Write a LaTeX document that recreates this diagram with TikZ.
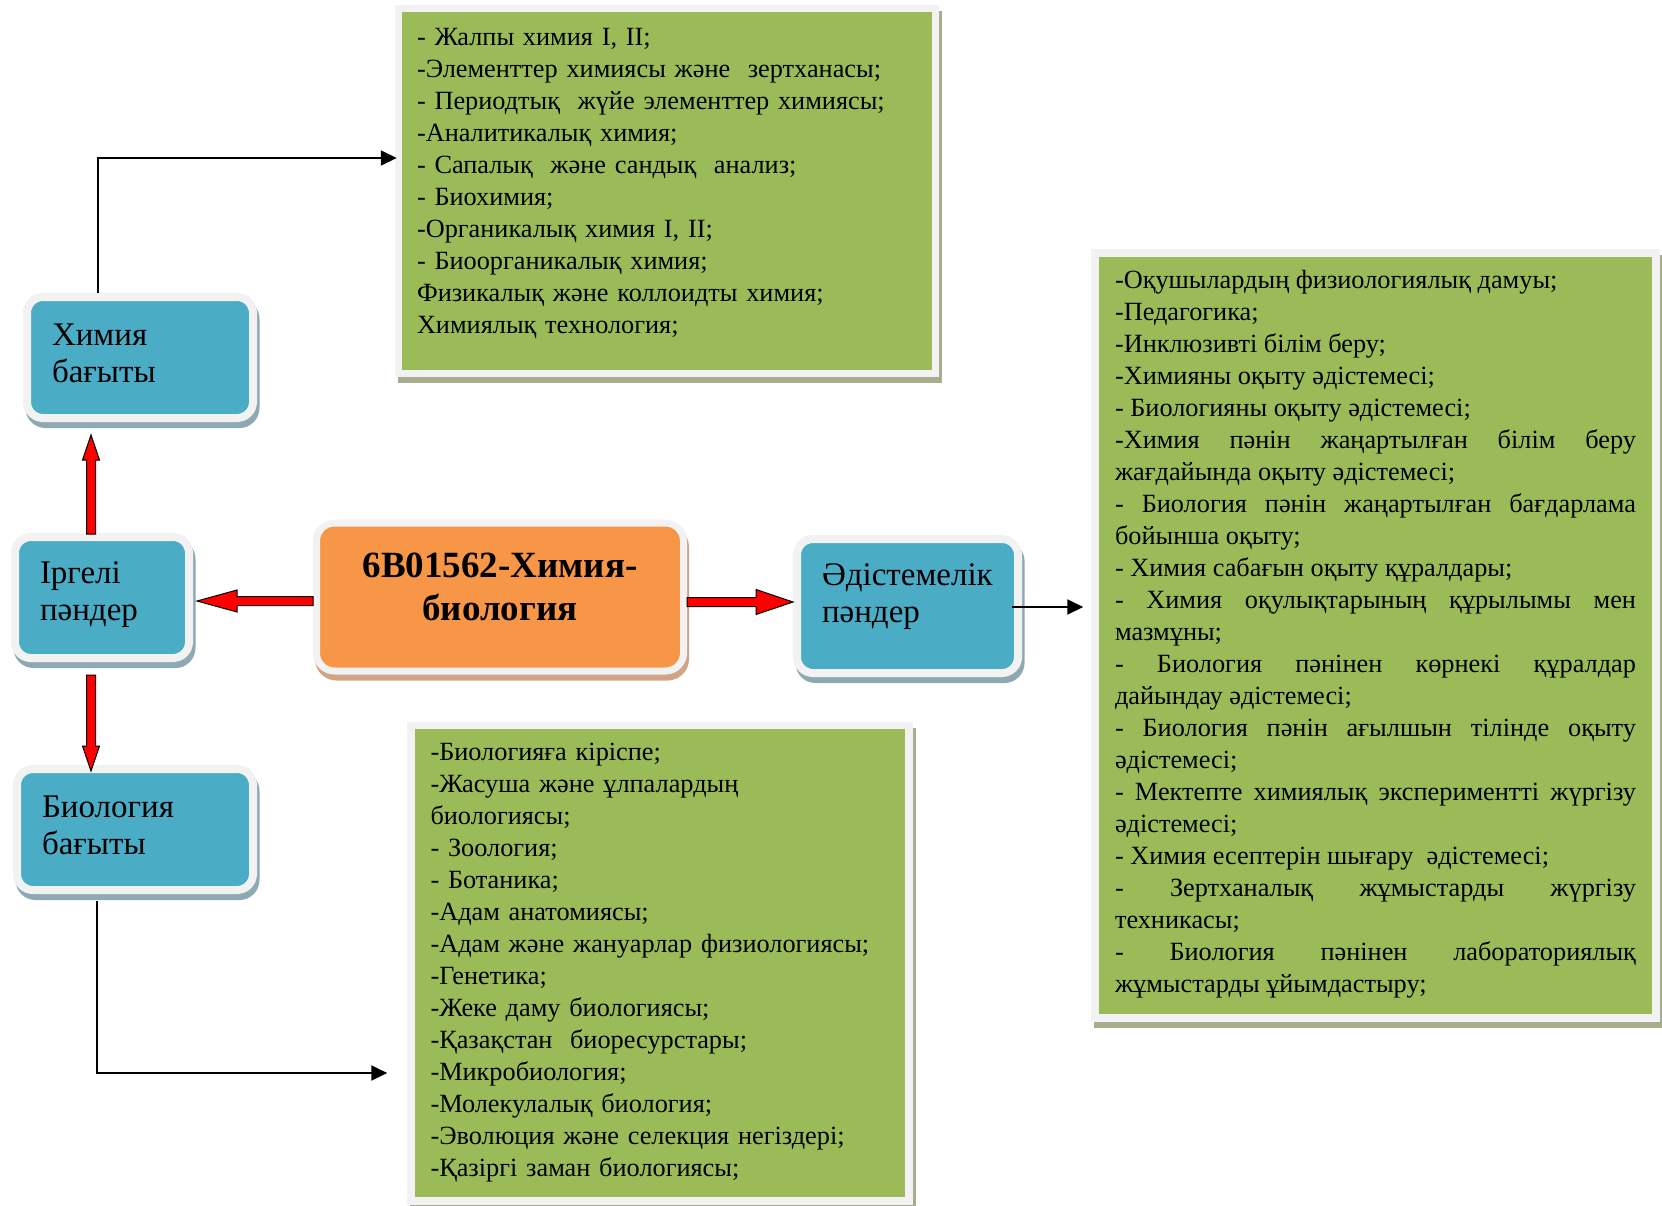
\documentclass[tikz,border=0pt]{standalone}
\usepackage{fontspec}
\setmainfont{Liberation Serif}
\usetikzlibrary{arrows.meta,calc}

\definecolor{boxblue}{HTML}{4BACC6}
\definecolor{boxorange}{HTML}{F79646}
\definecolor{boxgreen}{HTML}{9BBB59}
\definecolor{framegray}{HTML}{F2F2F2}
\definecolor{blueshade}{HTML}{8FA9B3}
\definecolor{orangeshade}{HTML}{D2A486}
\definecolor{greenshade}{HTML}{A6AE8E}

\tikzset{
	branch/.style={draw=framegray, line width=8pt, fill=boxblue, rounded corners=16pt,
		inner xsep=25pt, inner ysep=0pt, align=left, text height=25pt,
		font=\fontsize{33}{37}\selectfont,
		preaction={draw=blueshade, fill=blueshade, line width=8pt, transform canvas={shift={(2.5pt,-6pt)}}}},
	core/.style={draw=framegray, line width=7pt, fill=boxorange, rounded corners=18pt,
		inner xsep=20pt, inner ysep=0pt, align=center, text height=28pt,
		font=\bfseries\fontsize{37}{43}\selectfont,
		preaction={draw=orangeshade, fill=orangeshade, line width=7pt, transform canvas={shift={(2pt,-6pt)}}}},
	topic/.style={draw=framegray, line width=7.5pt, fill=boxgreen,
		inner ysep=0pt, text height=20pt,
		font=\fontsize{26.3}{32}\selectfont,
		preaction={draw=greenshade, fill=greenshade, line width=7.5pt, transform canvas={shift={(3pt,-6pt)}}}},
	redarrow/.style={draw=black, fill=red, line width=1pt, line join=miter},
	link/.style={draw=black, line width=2pt, -{Triangle[length=16pt,width=15pt]}}
}

% #1 start, #2 tip, #3 head length, #4 head half width
\newcommand{\fatarrow}[4]{%
	\path let \p1=(#1), \p2=(#2) in \pgfextra{%
		\pgfmathsetmacro\arrlen{veclen(\x2-\x1,\y2-\y1)}\global\let\arrlen\arrlen
		\pgfmathsetmacro\arrang{atan2(\y2-\y1,\x2-\x1)}\global\let\arrang\arrang};
	\draw[redarrow, shift={(#1)}, rotate=\arrang] (0pt,4.5pt) -- (\arrlen pt-#3pt,4.5pt)
		-- (\arrlen pt-#3pt,#4pt) -- (\arrlen pt,0pt) -- (\arrlen pt-#3pt,-#4pt)
		-- (\arrlen pt-#3pt,-4.5pt) -- (0pt,-4.5pt) -- cycle;
}

\begin{document}
\begin{tikzpicture}[x=1pt,y=-1pt]
	\useasboundingbox (0,0) rectangle (1662,1205);

	\node[branch, minimum width=226pt, minimum height=121pt, text width=176pt, text depth=50pt] (chem) at (140,357.5) {Химия\\бағыты};
	\node[branch, minimum width=174pt, minimum height=121pt, text width=124pt, text depth=54pt] (base) at (102,597.5) {Іргелі\\пәндер};
	\node[branch, minimum width=236pt, minimum height=121pt, text width=186pt, text depth=50pt] (bio) at (135,829.5) {Биология\\бағыты};
	\node[branch, minimum width=221pt, minimum height=134pt, text width=171pt, text depth=67pt] (method) at (907.5,606) {Әдістемелік\\пәндер};
	\node[core, minimum width=367pt, minimum height=148pt, text width=327pt, text depth=68pt] (prog) at (500,597) {6B01562-Химия-\\биология};

	\node[topic, align=left, minimum width=537pt, minimum height=365pt, text width=500pt, inner xsep=18.5pt, text depth=312pt] (chemlist) at (667,191) {%
		- Жалпы химия I, II;\\
		-Элементтер химиясы және~ зертханасы;\\
		- Периодтық~ жүйе элементтер химиясы;\\
		-Аналитикалық химия;\\
		- Сапалық~ және сандық~ анализ;\\
		- Биохимия;\\
		-Органикалық химия I, II;\\
		- Биоорганикалық химия;\\
		Физикалық және коллоидты химия;\\
		Химиялық технология;};
	\node[topic, minimum width=561pt, minimum height=765pt, inner xsep=20pt, text depth=715pt] (methodlist) at (1375.5,635.5) {%
		\begin{minipage}[t]{521pt}
		\tolerance=10000\relax\hyphenpenalty=10000\relax\exhyphenpenalty=10000\relax
		-Оқушылардың физиологиялық дамуы;\par
		-Педагогика;\par
		-Инклюзивті білім беру;\par
		-Химияны оқыту әдістемесі;\par
		- Биологияны оқыту әдістемесі;\par
		-Химия пәнін жаңартылған білім беру \linebreak жағдайында оқыту әдістемесі;\par
		- Биология пәнін жаңартылған бағдарлама \linebreak бойынша оқыту;\par
		- Химия сабағын оқыту құралдары;\par
		- Химия оқулықтарының құрылымы мен \linebreak мазмұны;\par
		- Биология пәнінен көрнекі құралдар \linebreak дайындау әдістемесі;\par
		- Биология пәнін ағылшын тілінде оқыту \linebreak әдістемесі;\par
		- Мектепте химиялық экспериментті жүргізу \linebreak әдістемесі;\par
		- Химия есептерін шығару~ әдістемесі;\par
		- Зертханалық жұмыстарды жүргізу \linebreak техникасы;\par
		- Биология пәнінен лабораториялық \linebreak жұмыстарды ұйымдастыру;
		\end{minipage}};
	\node[topic, align=left, minimum width=498pt, minimum height=475.5pt, text width=459pt, inner xsep=19.5pt, text depth=426pt] (biolist) at (660,963) {%
		-Биологияға кіріспе;\\
		-Жасуша және ұлпалардың\\
		биологиясы;\\
		- Зоология;\\
		- Ботаника;\\
		-Адам анатомиясы;\\
		-Адам және жануарлар физиологиясы;\\
		-Генетика;\\
		-Жеке даму биологиясы;\\
		-Қазақстан~ биоресурстары;\\
		-Микробиология;\\
		-Молекулалық биология;\\
		-Эволюция және селекция негіздері;\\
		-Қазіргі заман биологиясы;};

	\fatarrow{$(prog.west)+(0,4)$}{$(base.east |- prog.west)+(4,4)$}{40}{11}
	\fatarrow{$(prog.east)+(0,5)$}{$(method.west |- prog.east)+(0,5)$}{37}{12.5}
	\fatarrow{$(base.north)+(-11,1)$}{$(chem.south -| base.north)+(-11,13)$}{25}{8.5}
	\fatarrow{$(base.south)+(-11,13)$}{$(bio.north -| base.south)+(-11,6)$}{25}{8.5}

	\draw[link] ($(chem.north)+(-42,0)$) |- ($(chemlist.west)+(2,-33)$);
	\draw[link] ($(bio.south)+(-38,7)$) |- ($(biolist.west)+(-20,110)$);
	\draw[link] ($(method.east)+(-10,1)$) -- ($(method.east -| methodlist.west)+(-8,1)$);
\end{tikzpicture}
\end{document}
